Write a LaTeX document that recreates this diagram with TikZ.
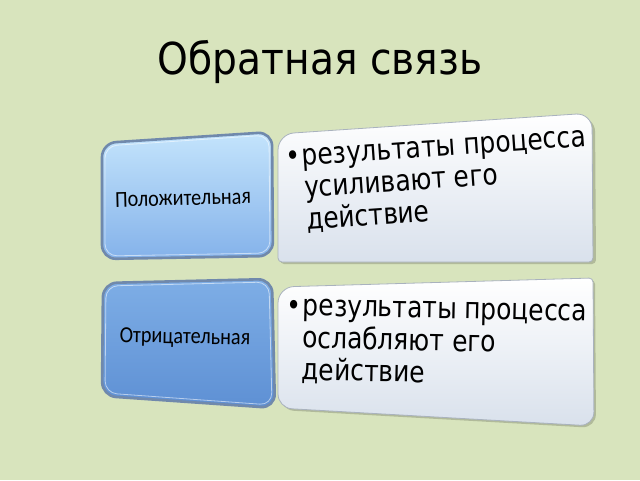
\documentclass[tikz,border=0pt]{standalone}
\usepackage{fontspec}
\setmainfont{DejaVu Sans}
\newfontfamily\titlefont[FakeStretch=0.89]{DejaVu Sans}
\newfontfamily\bodyfont[FakeStretch=0.845]{DejaVu Sans}
\newfontfamily\labelfont[FakeStretch=0.88]{Carlito}
\definecolor{bg}{HTML}{D8E4BD}
\definecolor{blueA}{HTML}{C4E4FC}
\definecolor{blueB}{HTML}{84B2EA}
\definecolor{blueC}{HTML}{7EAEE6}
\definecolor{blueD}{HTML}{5E90D4}
\definecolor{rimblue}{HTML}{7089AC}
\definecolor{whiteA}{HTML}{FFFFFF}
\definecolor{whiteB}{HTML}{D9E1EC}
\definecolor{rimgray}{HTML}{A9B2BE}
\tikzset{
  bluebox/.style={draw=rimblue, line width=2.6pt, rounded corners=14pt},
  bluehi/.style={draw=white, opacity=0.55, line width=0.8pt, rounded corners=12pt},
  whitebox/.style={draw=rimgray, line width=0.8pt, top color=whiteA, bottom color=whiteB},
  boxshadow/.style={fill=black, opacity=0.18},
  labeltext/.style={font=\labelfont\fontsize{23}{26}\selectfont},
  bullettext/.style={font=\bodyfont\fontsize{29.5}{32}\selectfont, anchor=base west, inner sep=0pt},
  titletext/.style={font=\titlefont\fontsize{44}{50}\selectfont}
}
\begin{document}
\begin{tikzpicture}[x=1pt,y=-1pt]
\fill[bg] (0,0) rectangle (640,480);
\useasboundingbox (0,0) rectangle (640,480);

% title
\node[titletext] (title) at (320,62) {Обратная связь};

% ---------- top row ----------
\fill[boxshadow] (280,264) [rounded corners=16pt] -- (280,137) -- (595,116) [rounded corners=4pt] -- (596,264) -- cycle;
\path[whitebox] (278,262) [rounded corners=16pt] -- (278,134) -- (592,113) [rounded corners=4pt] -- (593,262) -- cycle;
\shade[bluebox, top color=blueA, bottom color=blueB] (102,143) -- (272,132) -- (273,256) -- (102,259) -- cycle;
\draw[bluehi] (105,146) -- (269,135) -- (270,253) -- (105,256) -- cycle;

\node[labeltext, rotate=1.5] (pos) at (183,198) {Положительная};
\node[bullettext, rotate=4] (posdesc) at (286,167)
  {\begin{tabular}[t]{@{}l@{\hspace{2pt}}l@{}}
   • & результаты процесса\\
   & усиливают его\\
   & действие
  \end{tabular}};

% ---------- bottom row ----------
\fill[boxshadow] (280,410) [rounded corners=16pt] -- (280,289) [rounded corners=4pt] -- (595,280) [rounded corners=14pt] -- (596,428) -- cycle;
\path[whitebox] (278,408) [rounded corners=16pt] -- (278,287) [rounded corners=4pt] -- (593,278) [rounded corners=14pt] -- (594,426) -- cycle;
\shade[bluebox, top color=blueC, bottom color=blueD] (103,283) -- (272,279) -- (275,408) -- (102,396) -- cycle;
\draw[bluehi] (106,286) -- (269,282) -- (272,405) -- (105,393) -- cycle;

\node[labeltext, rotate=-1.2] (neg) at (185,338) {Отрицательная};
\node[bullettext, rotate=-1.2] (negdesc) at (286,315)
  {\begin{tabular}[t]{@{}l@{\hspace{2pt}}l@{}}
   • & результаты процесса\\
   & ослабляют его\\
   & действие
  \end{tabular}};
\end{tikzpicture}
\end{document}
